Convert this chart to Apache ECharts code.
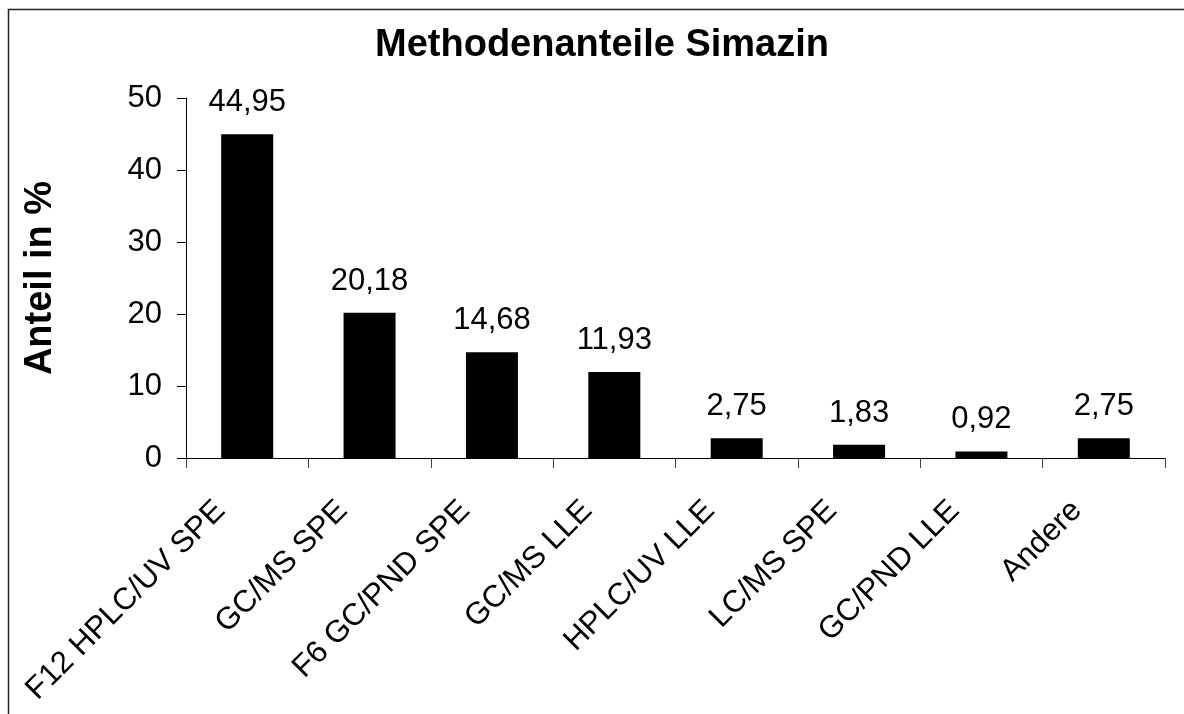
<!DOCTYPE html>
<html>
<head>
<meta charset="utf-8">
<script src="https://cdn.jsdelivr.net/npm/echarts@6/dist/echarts.min.js"></script>
<style>
html,body{margin:0;padding:0;background:#fff;}
#c{width:1184px;height:714px;}
</style>
</head>
<body>
<div id="c"></div>
<script>
const titleText = 'Methodenanteile Simazin';
const yAxisTitle = 'Anteil in %';
const categories = ['F12 HPLC/UV SPE','GC/MS SPE','F6 GC/PND SPE','GC/MS LLE','HPLC/UV LLE','LC/MS SPE','GC/PND LLE','Andere'];
const values = [44.95, 20.18, 14.68, 11.93, 2.75, 1.83, 0.92, 2.75];
const yTicks = [0, 10, 20, 30, 40, 50];

const FONT = 'Arial, "Liberation Sans", sans-serif';
const chart = echarts.init(document.getElementById('c'), null, {renderer:'canvas'});
chart.setOption({
  animation:false,
  backgroundColor:'#fff',
  grid:{left:186, right:19, top:98, bottom:256, containLabel:false},
  graphic:[
    {type:'rect', shape:{x:8.5, y:9.5, width:1300, height:900}, style:{fill:'none', stroke:'#222', lineWidth:1.5}, z:0},
    {type:'text', x:602, y:46, style:{text:titleText, font:'bold 38px '+FONT, fill:'#000', align:'center', verticalAlign:'middle'}},
    {type:'text', x:41, y:278, rotation:Math.PI/2, style:{text:yAxisTitle, font:'bold 38px '+FONT, fill:'#000', align:'center', verticalAlign:'middle'}}
  ],
  xAxis:{
    type:'category', data:categories, boundaryGap:true,
    axisLine:{show:true, lineStyle:{color:'#000', width:1}},
    axisTick:{show:true, length:10, alignWithLabel:false, lineStyle:{color:'#444'}},
    axisLabel:{interval:0, rotate:45, margin:21, padding:[0,38,0,0], color:'#000', fontSize:31, fontFamily:FONT},
    splitLine:{show:false}
  },
  yAxis:{
    type:'value', min:yTicks[0], max:yTicks[yTicks.length-1], interval:10,
    axisLine:{show:true, lineStyle:{color:'#000', width:1}},
    axisTick:{show:true, length:9, inside:false, lineStyle:{color:'#000'}},
    axisLabel:{margin:24, color:'#000', fontSize:31, fontFamily:FONT},
    splitLine:{show:false}
  },
  series:[{
    type:'bar', data:values, barWidth:52,
    itemStyle:{color:'#000'},
    label:{show:true, position:'top', distance:16, color:'#000', fontSize:31, fontFamily:FONT,
      formatter:p=>p.value.toFixed(2).replace('.',',')}
  }]
});
</script>
</body>
</html>
